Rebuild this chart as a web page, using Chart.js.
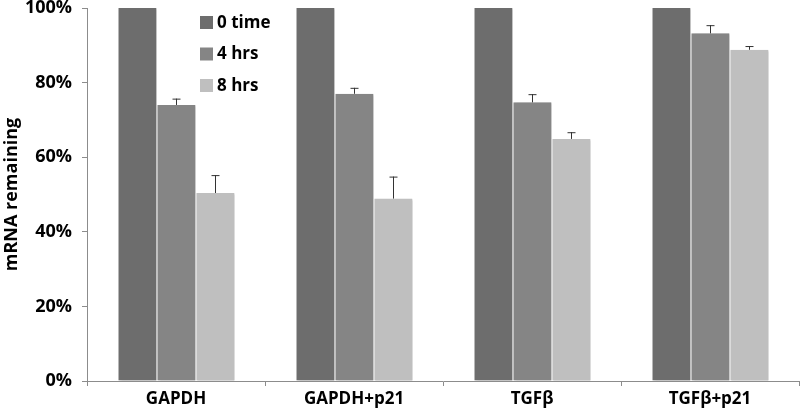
<!DOCTYPE html>
<html>
<head>
<meta charset="utf-8">
<script src="https://cdn.jsdelivr.net/npm/chart.js@4/dist/chart.umd.min.js"></script>
<style>
  html, body { margin: 0; padding: 0; background: #fff; }
  #wrap { width: 800px; height: 411px; position: relative; }
</style>
</head>
<body>
<div id="wrap"><canvas id="myChart"></canvas></div>
<script>
// chart values
const categories = ['GAPDH', 'GAPDH+p21', 'TGF\u03b2', 'TGF\u03b2+p21'];
const seriesNames = ['0 time', '4 hrs', '8 hrs'];
const time0 = [100, 100, 100, 100];
const hrs4 = [74.0, 77.0, 74.7, 93.2];
const hrs8 = [50.4, 48.9, 64.9, 88.8];
// upward error (size of the bar above the value)
const err0 = [0, 0, 0, 0];
const err4 = [1.7, 1.6, 2.2, 2.2];
const err8 = [4.8, 5.9, 1.8, 1.0];
const yTicks = [0, 20, 40, 60, 80, 100];

const colors = ['#6d6d6d', '#858585', '#bfbfbf'];
const fontFam = '"Open Sans", Lato, sans-serif';

const errorBars = {
    id: 'errorBars',
    afterDatasetsDraw(chart) {
        const ctx = chart.ctx;
        const y = chart.scales.y;
        const errs = [err0, err4, err8];
        ctx.save();
        ctx.strokeStyle = '#333';
        ctx.lineWidth = 1;
        chart.data.datasets.forEach((ds, i) => {
            const meta = chart.getDatasetMeta(i);
            meta.data.forEach((bar, j) => {
                const e = errs[i][j];
                if (!e) return;
                const top = y.getPixelForValue(ds.data[j] + e);
                const x = Math.round(bar.x) + 0.5;
                ctx.beginPath();
                ctx.moveTo(x, bar.y);
                ctx.lineTo(x, top);
                ctx.moveTo(x - 4, top + 0.5);
                ctx.lineTo(x + 4, top + 0.5);
                ctx.stroke();
            });
        });
        ctx.restore();
    }
};

const barShadow = {
    id: 'barShadow',
    beforeDatasetsDraw(chart) {
        const ctx = chart.ctx;
        ctx.save();
        ctx.shadowColor = 'rgba(0,0,0,0.25)';
        ctx.shadowOffsetX = 2;
        ctx.shadowOffsetY = 1;
        ctx.shadowBlur = 2;
    },
    afterDatasetsDraw(chart) {
        chart.ctx.restore();
    }
};

const boxLegend = {
    id: 'boxLegend',
    afterDraw(chart) {
        const ctx = chart.ctx;
        ctx.save();
        ctx.font = 'bold 17px ' + fontFam;
        ctx.textBaseline = 'middle';
        chart.data.datasets.forEach((ds, i) => {
            const cy = 22 + i * 31.5;
            ctx.fillStyle = ds.backgroundColor;
            ctx.fillRect(200, cy - 6, 13, 13);
            ctx.fillStyle = '#000';
            ctx.fillText(ds.label, 217, cy + 1);
        });
        ctx.restore();
    }
};

const ctx = document.getElementById('myChart').getContext('2d');
const myChart = new Chart(ctx, {
    type: 'bar',
    data: {
        labels: categories,
        datasets: [time0, hrs4, hrs8].map((d, i) => ({
            label: seriesNames[i],
            data: d,
            backgroundColor: colors[i],
            borderColor: '#ffffff',
            borderWidth: { left: 1, right: 0, top: 0, bottom: 0 },
            borderSkipped: false,
            barPercentage: 1,
            categoryPercentage: 0.657
        }))
    },
    options: {
        responsive: true,
        maintainAspectRatio: false,
        animation: false,
        layout: { padding: { top: 8, right: 1, left: 0, bottom: 0 } },
        plugins: {
            legend: { display: false },
            tooltip: { enabled: false }
        },
        scales: {
            x: {
                grid: {
                    display: true,
                    offset: true,
                    drawOnChartArea: false,
                    tickLength: 5,
                    color: '#8c8c8c'
                },
                border: { color: '#8c8c8c' },
                ticks: {
                    color: '#000',
                    padding: 3,
                    font: { family: fontFam, size: 17, weight: 'bold' }
                },
                afterFit: s => { s.height = 30; s.paddingLeft = 0; s.paddingRight = 0; }
            },
            y: {
                min: 0,
                max: 100,
                afterBuildTicks: s => { s.ticks = yTicks.map(v => ({ value: v })); },
                grid: {
                    drawOnChartArea: false,
                    tickLength: 5,
                    color: '#8c8c8c'
                },
                border: { color: '#8c8c8c' },
                ticks: {
                    color: '#000',
                    padding: 10,
                    callback: v => v + '%',
                    font: { family: fontFam, size: 18, weight: 'bold' }
                },
                title: {
                    display: true,
                    text: 'mRNA remaining',
                    color: '#000',
                    padding: { top: 1, bottom: 0 },
                    font: { family: fontFam, size: 18, weight: 'bold' }
                },
                afterFit: s => { s.width = 87; s.paddingTop = 0; s.paddingBottom = 0; }
            }
        }
    },
    plugins: [barShadow, errorBars, boxLegend]
});
</script>
</body>
</html>
